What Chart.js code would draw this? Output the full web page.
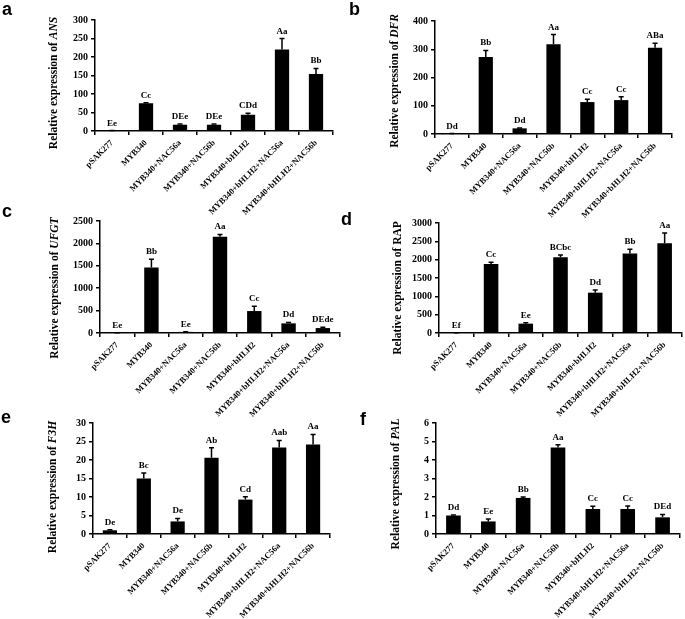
<!DOCTYPE html>
<html>
<head>
<meta charset="utf-8">
<script src="https://cdn.jsdelivr.net/npm/chart.js@4.4.1/dist/chart.umd.min.js"></script>
<style>
  html, body { margin: 0; padding: 0; background: #fff; }
  #wrap { position: relative; width: 685px; height: 619px; overflow: hidden; background: #fff; }
  canvas { position: absolute; }
</style>
</head>
<body>
<div id="wrap"></div>
<script>
// ---------- DATA ----------
const categories = ['pSAK277', 'MYB340', 'MYB340+NAC56a', 'MYB340+NAC56b', 'MYB340+bHLH2', 'MYB340+bHLH2+NAC56a', 'MYB340+bHLH2+NAC56b'];

const ansValues  = [0.8, 75, 17, 17, 44, 220, 154];
const ansErrors  = [0.3, 1.5, 2, 2, 4, 30, 15];
const ansLetters = ['Ee', 'Cc', 'DEe', 'DEe', 'CDd', 'Aa', 'Bb'];

const dfrValues  = [1, 273, 20, 318, 113, 120, 305];
const dfrErrors  = [0.5, 23, 1.5, 34, 10, 12, 16];
const dfrLetters = ['Dd', 'Bb', 'Dd', 'Aa', 'Cc', 'Cc', 'ABa'];

const ufgtValues  = [2, 1460, 25, 2150, 490, 215, 110];
const ufgtErrors  = [1, 185, 5, 50, 105, 20, 20];
const ufgtLetters = ['Ee', 'Bb', 'Ee', 'Aa', 'Cc', 'Dd', 'DEde'];

const rapValues  = [3, 1885, 255, 2065, 1100, 2170, 2450];
const rapErrors  = [1, 45, 25, 60, 70, 115, 275];
const rapLetters = ['Ef', 'Cc', 'Ee', 'BCbc', 'Dd', 'Bb', 'Aa'];

const f3hValues  = [1.0, 15.0, 3.4, 20.6, 9.3, 23.4, 24.2];
const f3hErrors  = [0.15, 1.5, 0.8, 2.7, 0.8, 1.9, 2.7];
const f3hLetters = ['De', 'Bc', 'De', 'Ab', 'Cd', 'Aab', 'Aa'];

const palValues  = [1.0, 0.68, 1.95, 4.68, 1.35, 1.35, 0.9];
const palErrors  = [0.03, 0.13, 0.05, 0.14, 0.15, 0.17, 0.16];
const palLetters = ['Dd', 'Ee', 'Bb', 'Aa', 'Cc', 'Cc', 'DEd'];

const panelLetters = ['a', 'b', 'c', 'd', 'e', 'f'];
const geneNames    = ['ANS', 'DFR', 'UFGT', 'RAP', 'F3H', 'PAL'];
const geneItalic   = [true, true, true, false, true, true];
const yMaxes       = [300, 400, 2500, 3000, 30, 6];
const ySteps       = [50, 50, 500, 500, 5, 1];

const seriesValues  = [ansValues, dfrValues, ufgtValues, rapValues, f3hValues, palValues];
const seriesErrors  = [ansErrors, dfrErrors, ufgtErrors, rapErrors, f3hErrors, palErrors];
const seriesLetters = [ansLetters, dfrLetters, ufgtLetters, rapLetters, f3hLetters, palLetters];

// ---------- LAYOUT ----------
const layouts = [
  { left: 0,   top: 0,   w: 340, h: 225, yw: 95, pt: 20, pr: 7,  xh: 94, lx: 2,  ly: 15, tx: 54,  ty: 83 },
  { left: 340, top: 0,   w: 345, h: 225, yw: 95, pt: 21, pr: 13, xh: 91, lx: 9,  ly: 15, tx: 55,  ty: 81 },
  { left: 0,   top: 205, w: 345, h: 220, yw: 100, pt: 16, pr: 5, xh: 92, lx: 2,  ly: 12, tx: 55,  ty: 83 },
  { left: 340, top: 205, w: 345, h: 220, yw: 99, pt: 18, pr: 3,  xh: 92, lx: 1,  ly: 20, tx: 58,  ty: 83 },
  { left: 0,   top: 410, w: 345, h: 209, yw: 93, pt: 13, pr: 15, xh: 85, lx: 1,  ly: 13, tx: 53,  ty: 77 },
  { left: 340, top: 410, w: 345, h: 209, yw: 96, pt: 13, pr: 5,  xh: 85, lx: 20, ly: 15, tx: 56,  ty: 74 }
];

const SERIF = '"Liberation Serif", "Times New Roman", serif';
const SANS = '"Liberation Sans", Arial, sans-serif';

const overlay = {
  id: 'overlay',
  afterDatasetsDraw(chart, args, o) {
    const ctx = chart.ctx;
    const meta = chart.getDatasetMeta(0);
    const ys = chart.scales.y;
    ctx.save();
    ctx.strokeStyle = '#000';
    ctx.fillStyle = '#000';
    ctx.lineWidth = 1.5;
    ctx.font = 'bold 9px ' + SERIF;
    ctx.textAlign = 'center';
    ctx.textBaseline = 'alphabetic';
    o.values.forEach((v, i) => {
      const x = meta.data[i].x;
      const y0 = ys.getPixelForValue(v);
      const y1 = ys.getPixelForValue(v + o.errors[i]);
      ctx.beginPath();
      ctx.moveTo(x, y0);
      ctx.lineTo(x, y1);
      ctx.moveTo(x - 2.5, y1);
      ctx.lineTo(x + 2.5, y1);
      ctx.stroke();
      ctx.fillText(o.letters[i], x, y1 - 5);
    });
    ctx.restore();
  },
  afterDraw(chart, args, o) {
    const ctx = chart.ctx;
    ctx.save();
    ctx.fillStyle = '#000';
    ctx.font = 'bold 18px ' + SANS;
    ctx.textAlign = 'left';
    ctx.textBaseline = 'alphabetic';
    ctx.fillText(o.panel, o.lx, o.ly);
    ctx.translate(o.tx, o.ty);
    ctx.rotate(-Math.PI / 2);
    const f1 = 'bold 11.5px ' + SERIF;
    const f2 = (o.italic ? 'italic ' : '') + 'bold 11.5px ' + SERIF;
    const p1 = 'Relative expression of ';
    ctx.font = f1; const w1 = ctx.measureText(p1).width;
    ctx.font = f2; const w2 = ctx.measureText(o.gene).width;
    const sx = -(w1 + w2) / 2;
    ctx.textBaseline = 'middle';
    ctx.font = f1; ctx.fillText(p1, sx, 0);
    ctx.font = f2; ctx.fillText(o.gene, sx + w1, 0);
    ctx.restore();
  }
};

const wrap = document.getElementById('wrap');
layouts.forEach((L, k) => {
  const c = document.createElement('canvas');
  c.width = L.w; c.height = L.h;
  c.style.left = L.left + 'px'; c.style.top = L.top + 'px';
  c.style.width = L.w + 'px'; c.style.height = L.h + 'px';
  wrap.appendChild(c);
  new Chart(c, {
    type: 'bar',
    data: {
      labels: categories,
      datasets: [{
        data: seriesValues[k],
        backgroundColor: '#000',
        borderWidth: 0,
        barPercentage: 0.42,
        categoryPercentage: 1.0
      }]
    },
    options: {
      responsive: false,
      animation: false,
      devicePixelRatio: 1,
      layout: { autoPadding: false, padding: { left: 0, top: L.pt, right: L.pr, bottom: 0 } },
      plugins: {
        legend: { display: false },
        tooltip: { enabled: false },
        overlay: {
          values: seriesValues[k], errors: seriesErrors[k], letters: seriesLetters[k],
          panel: panelLetters[k], gene: geneNames[k], italic: geneItalic[k],
          lx: L.lx, ly: L.ly, tx: L.tx, ty: L.ty
        }
      },
      scales: {
        x: {
          offset: true,
          grid: { display: true, drawOnChartArea: false, drawTicks: true, tickLength: 4, color: '#000', lineWidth: 1.5, offset: true },
          border: { display: true, color: '#000', width: 1.5 },
          ticks: { color: '#000', font: { family: SERIF, weight: 'bold', size: 8.5 }, minRotation: 45, maxRotation: 45, autoSkip: false, padding: 3 },
          afterFit: s => { s.height = L.xh; }
        },
        y: {
          min: 0, max: yMaxes[k],
          grid: { display: true, drawOnChartArea: false, drawTicks: true, tickLength: 4, color: '#000', lineWidth: 1.5 },
          border: { display: true, color: '#000', width: 1.5 },
          ticks: { stepSize: ySteps[k], color: '#000', font: { family: SERIF, weight: 'bold', size: 10 }, padding: 3,
                   callback: v => String(v) },
          afterFit: s => { s.width = L.yw; }
        }
      }
    },
    plugins: [overlay]
  });
});
</script>
</body>
</html>
